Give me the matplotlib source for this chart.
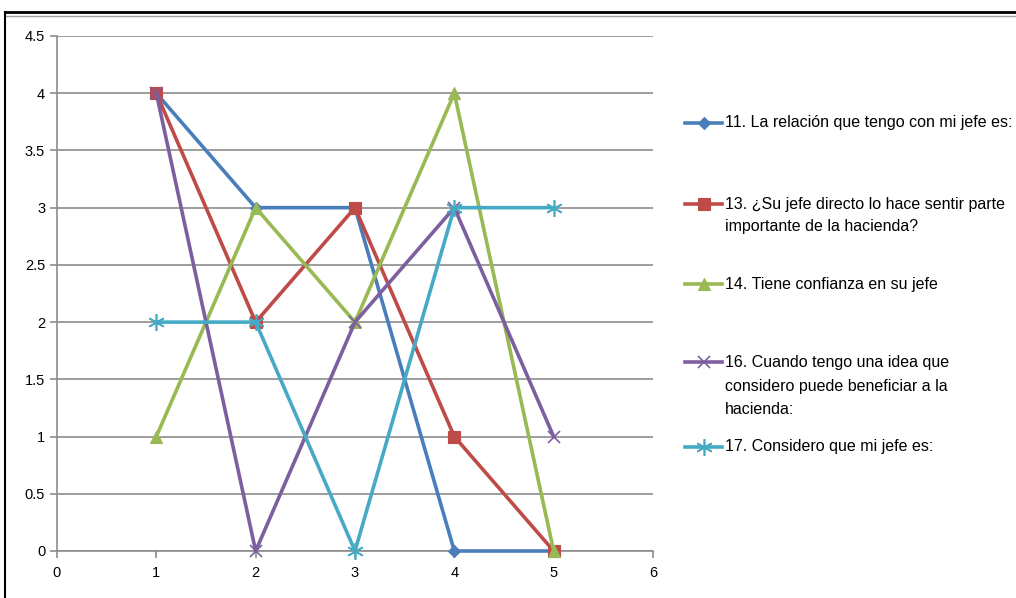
import matplotlib.pyplot as plt
from matplotlib.lines import Line2D

plt.rcParams['font.family'] = ['Liberation Sans', 'DejaVu Sans']

# --- Data ---
x_vals = [1, 2, 3, 4, 5]
s11 = [4, 3, 3, 0, 0]
s13 = [4, 2, 3, 1, 0]
s14 = [1, 3, 2, 4, 0]
s16 = [4, 0, 2, 3, 1]
s17 = [2, 2, 0, 3, 3]

labels = [
    '11. La relación que tengo con mi jefe es:',
    '13. ¿Su jefe directo lo hace sentir parte\nimportante de la hacienda?',
    '14. Tiene confianza en su jefe',
    '16. Cuando tengo una idea que\nconsidero puede beneficiar a la\nhacienda:',
    '17. Considero que mi jefe es:',
]
series = [s11, s13, s14, s16, s17]
colors = ['#4A7EBB', '#BE4B48', '#98B954', '#7D5FA0', '#46AAC5']
markers = ['D', 's', '^', 'x', (6, 2, 0)]
msizes = [6, 9, 8, 9, 12]
medges = [0.8, 0.8, 0.8, 1.2, 1.2]

fig = plt.figure(figsize=(10.16, 5.98), dpi=100)
ax = fig.add_axes([0.0561, 0.0786, 0.5866, 0.8612])

for ys, c, m, ms, mew in zip(series, colors, markers, msizes, medges):
    ax.plot(x_vals, ys, color=c, linewidth=2.6, marker=m, markersize=ms,
            markeredgewidth=mew, markeredgecolor=c, markerfacecolor=c,
            clip_on=False, zorder=3)

ax.set_xlim(0, 6)
ax.set_ylim(0, 4.5)
ax.set_xticks(range(7))
ax.set_yticks([0, 0.5, 1, 1.5, 2, 2.5, 3, 3.5, 4, 4.5])
ax.set_yticklabels(['0', '0.5', '1', '1.5', '2', '2.5', '3', '3.5', '4', '4.5'])
ax.grid(axis='y', color='#8C8C8C', linewidth=1.2)
ax.set_axisbelow(True)
for side in ('top', 'right'):
    ax.spines[side].set_visible(False)
for side in ('left', 'bottom'):
    ax.spines[side].set_color('#8C8C8C')
    ax.spines[side].set_linewidth(1.2)
ax.tick_params(colors='#8C8C8C', labelcolor='black', labelsize=10.5, length=5, width=1.2)
ax.tick_params(axis='x', pad=6)

# --- Legend entries ---
leg_x0, leg_x1 = 0.674, 0.711
leg_rows = [(123, [123]), (204, [204, 226]), (284, [284]), (362, [362, 387, 410]), (447, [447])]
for (yline, ytexts), lab, c, m, ms, mew in zip(leg_rows, labels, colors, markers, msizes, medges):
    yf = 1 - yline / 598
    fig.add_artist(Line2D([leg_x0, leg_x1], [yf, yf], color=c, linewidth=2.6,
                          transform=fig.transFigure))
    fig.add_artist(Line2D([(leg_x0 + leg_x1) / 2], [yf], color=c, marker=m,
                          markersize=ms, markeredgecolor=c, markerfacecolor=c,
                          markeredgewidth=mew, linestyle='none',
                          transform=fig.transFigure))
    for line, yt in zip(lab.split('\n'), ytexts):
        fig.text(0.7135, 1 - yt / 598, line, fontsize=11.5, va='center', ha='left')

# --- Sheet frame ---
fig.add_artist(Line2D([0.005, 1.0], [1 - 12 / 598] * 2, color='black', linewidth=2,
                      transform=fig.transFigure))
fig.add_artist(Line2D([0.005, 1.0], [1 - 16 / 598] * 2, color='#A0A0A0', linewidth=1,
                      transform=fig.transFigure))
fig.add_artist(Line2D([0.005, 0.005], [0, 1 - 12 / 598], color='black', linewidth=1.5,
                      transform=fig.transFigure))

fig.savefig('out.png', dpi=100)
